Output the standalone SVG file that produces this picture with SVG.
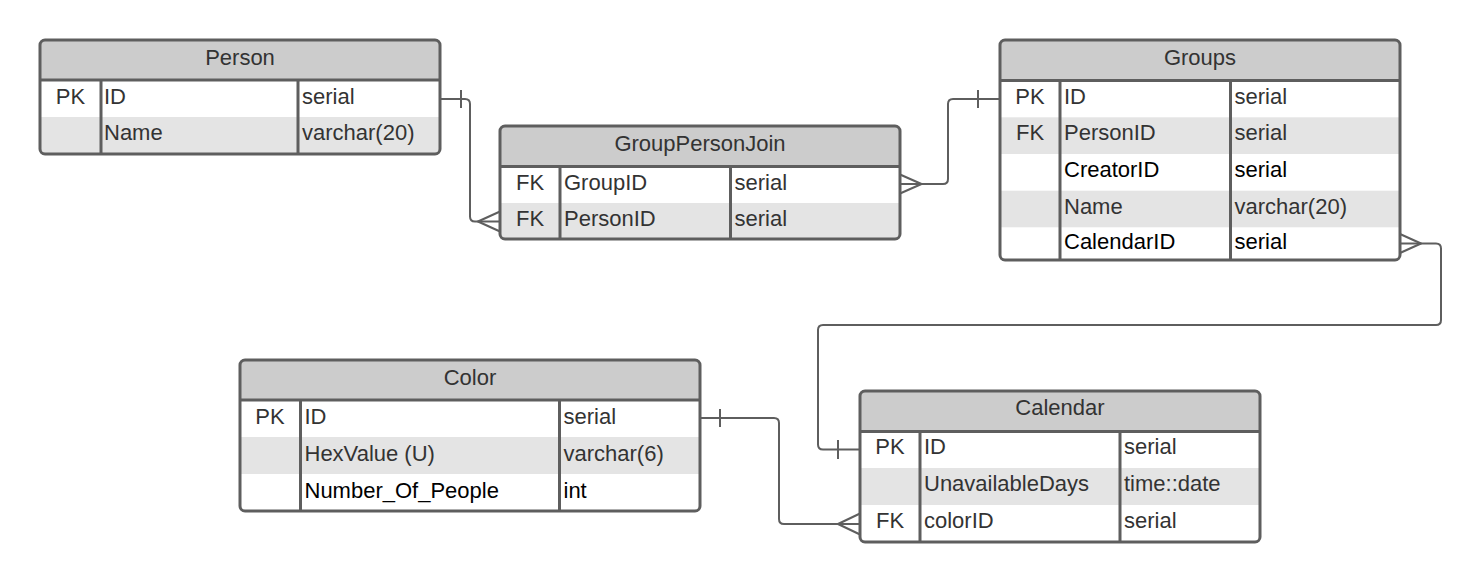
<svg xmlns="http://www.w3.org/2000/svg" width="1482" height="582" viewBox="0 0 1482 582">
<style>
.bg{fill:#ffffff}
.hd{fill:#cccccc}
.alt{fill:#e4e4e4}
.frame{fill:none;stroke:#5e5e5e;stroke-width:3}
.ln{stroke:#5e5e5e;stroke-width:3;fill:none}
.conn{fill:none;stroke:#5e5e5e;stroke-width:2;stroke-linejoin:round}
text{font-family:"Liberation Sans",Arial,sans-serif;font-size:22px;fill:#333333}
.t{text-anchor:middle}
.k{text-anchor:middle}
.b{fill:#000000}
</style>
<rect width="1482" height="582" fill="#ffffff"/>

<g id="connectors">
  <!-- Person.ID -> GroupPersonJoin.PersonID -->
  <path class="conn" d="M440,99 H465 Q470,99 470,104 V216.5 Q470,221.5 475,221.5 H500"/>
  <path class="conn" d="M461,90 V108"/>
  <path class="conn" d="M500,211.5 L478,221.5 L500,231.5"/>
  <!-- GroupPersonJoin.GroupID -> Groups.ID -->
  <path class="conn" d="M900,184 H943 Q948,184 948,179 V104 Q948,99 953,99 H1000"/>
  <path class="conn" d="M978,90 V108"/>
  <path class="conn" d="M900,174.5 L921.5,184 L900,193.5"/>
  <!-- Groups.CalendarID -> Calendar.ID -->
  <path class="conn" d="M1400,243.5 H1436 Q1441,243.5 1441,248.5 V320 Q1441,325 1436,325 H823 Q818,325 818,330 V444.5 Q818,449.5 823,449.5 H860"/>
  <path class="conn" d="M1400,234 L1421,243.5 L1400,253"/>
  <path class="conn" d="M838,440 V459"/>
  <!-- Color.ID -> Calendar.colorID -->
  <path class="conn" d="M700,418 H774 Q779,418 779,423 V519 Q779,524 784,524 H860"/>
  <path class="conn" d="M720,409 V427"/>
  <path class="conn" d="M860,513.5 L838,524 L860,534.5"/>
</g>

<g id="person">
  <rect class="bg" x="40" y="40" width="400" height="114" rx="5"/>
  <path class="hd" d="M40,80 V45 Q40,40 45,40 H435 Q440,40 440,45 V80 Z"/>
  <path class="alt" d="M40,117 H440 V149 Q440,154 435,154 H45 Q40,154 40,149 Z"/>
  <rect class="frame" x="40" y="40" width="400" height="114" rx="5"/>
  <path class="ln" d="M40,80 H440 M101,80 V154 M298,80 V154"/>
  <text class="t" x="240" y="65">Person</text>
  <text class="k" x="70.5" y="104">PK</text>
  <text x="104" y="104">ID</text>
  <text x="302" y="104">serial</text>
  <text x="104" y="140">Name</text>
  <text x="302" y="140">varchar(20)</text>
</g>

<g id="grouppersonjoin">
  <rect class="bg" x="500" y="126" width="400" height="113" rx="5"/>
  <path class="hd" d="M500,166.5 V131 Q500,126 505,126 H895 Q900,126 900,131 V166.5 Z"/>
  <path class="alt" d="M500,203 H900 V234 Q900,239 895,239 H505 Q500,239 500,234 Z"/>
  <rect class="frame" x="500" y="126" width="400" height="113" rx="5"/>
  <path class="ln" d="M500,166.5 H900 M560,166.5 V239 M730.5,166.5 V239"/>
  <text class="t" x="700" y="151">GroupPersonJoin</text>
  <text class="k" x="530" y="189.5">FK</text>
  <text x="564" y="189.5">GroupID</text>
  <text x="734.5" y="189.5">serial</text>
  <text class="k" x="530" y="226">FK</text>
  <text x="564" y="226">PersonID</text>
  <text x="734.5" y="226">serial</text>
</g>

<g id="groups">
  <rect class="bg" x="1000" y="40" width="400" height="220" rx="5"/>
  <path class="hd" d="M1000,80.5 V45 Q1000,40 1005,40 H1395 Q1400,40 1400,45 V80.5 Z"/>
  <rect class="alt" x="1000" y="117.3" width="400" height="36.7"/>
  <rect class="alt" x="1000" y="190.7" width="400" height="36.6"/>
  <rect class="frame" x="1000" y="40" width="400" height="220" rx="5"/>
  <path class="ln" d="M1000,80.5 H1400 M1060,80.5 V260 M1230.5,80.5 V260"/>
  <text class="t" x="1200" y="65">Groups</text>
  <text class="k" x="1030" y="103.5">PK</text>
  <text x="1064" y="103.5">ID</text>
  <text x="1234.5" y="103.5">serial</text>
  <text class="k" x="1030" y="140">FK</text>
  <text x="1064" y="140">PersonID</text>
  <text x="1234.5" y="140">serial</text>
  <text class="b" x="1064" y="177">CreatorID</text>
  <text class="b" x="1234.5" y="177">serial</text>
  <text x="1064" y="214">Name</text>
  <text x="1234.5" y="214">varchar(20)</text>
  <text class="b" x="1064" y="248.5">CalendarID</text>
  <text class="b" x="1234.5" y="248.5">serial</text>
</g>

<g id="color">
  <rect class="bg" x="240" y="360" width="460" height="151" rx="5"/>
  <path class="hd" d="M240,400 V365 Q240,360 245,360 H695 Q700,360 700,365 V400 Z"/>
  <rect class="alt" x="240" y="437" width="460" height="37"/>
  <rect class="frame" x="240" y="360" width="460" height="151" rx="5"/>
  <path class="ln" d="M240,400 H700 M300.5,400 V511 M559.5,400 V511"/>
  <text class="t" x="470" y="384.5">Color</text>
  <text class="k" x="270" y="423.5">PK</text>
  <text x="304.5" y="423.5">ID</text>
  <text x="563.5" y="423.5">serial</text>
  <text x="304.5" y="460.5">HexValue (U)</text>
  <text x="563.5" y="460.5">varchar(6)</text>
  <text class="b" x="304.5" y="497.5">Number_Of_People</text>
  <text class="b" x="563.5" y="497.5">int</text>
</g>

<g id="calendar">
  <rect class="bg" x="860" y="391" width="400" height="151" rx="5"/>
  <path class="hd" d="M860,431.5 V396 Q860,391 865,391 H1255 Q1260,391 1260,396 V431.5 Z"/>
  <rect class="alt" x="860" y="468" width="400" height="37"/>
  <rect class="frame" x="860" y="391" width="400" height="151" rx="5"/>
  <path class="ln" d="M860,431.5 H1260 M920,431.5 V542 M1120,431.5 V542"/>
  <text class="t" x="1060" y="415">Calendar</text>
  <text class="k" x="890" y="454">PK</text>
  <text x="924" y="454">ID</text>
  <text x="1124" y="454">serial</text>
  <text x="924" y="491">UnavailableDays</text>
  <text x="1124" y="491">time::date</text>
  <text class="k" x="890" y="528">FK</text>
  <text x="924" y="528">colorID</text>
  <text x="1124" y="528">serial</text>
</g>
</svg>
